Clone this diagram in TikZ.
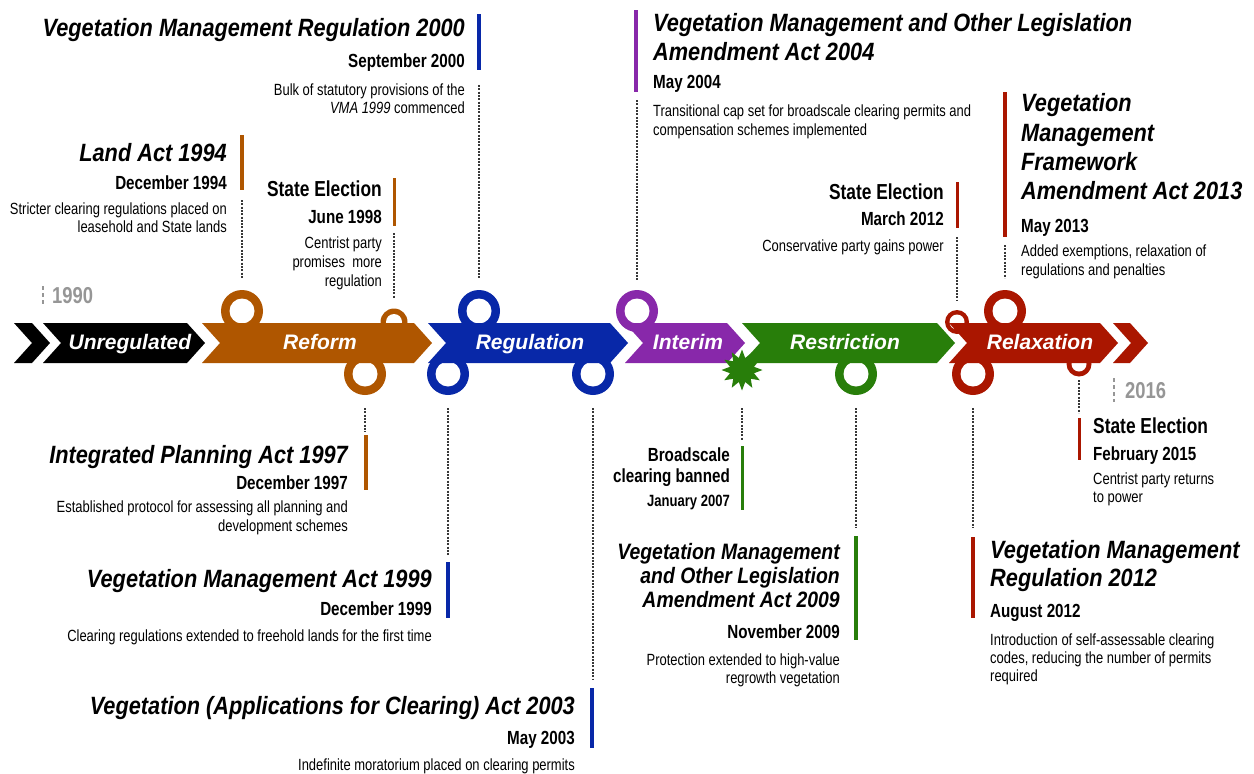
\documentclass[tikz,border=0pt]{standalone}
\usepackage{fontspec}
\setmainfont{Liberation Sans}
\usetikzlibrary{shapes.geometric}
\newfontfamily\tlNarrow[FakeStretch=0.8]{Liberation Sans}
\newfontfamily\tlCond[FakeStretch=0.87]{Liberation Sans}
\newfontfamily\tlPlain{Liberation Sans}

\definecolor{cBlack}{RGB}{0,0,0}
\definecolor{cOrange}{RGB}{175,86,0}
\definecolor{cBlue}{RGB}{8,40,168}
\definecolor{cPurple}{RGB}{136,40,170}
\definecolor{cGreen}{RGB}{40,126,10}
\definecolor{cRed}{RGB}{170,22,0}
\definecolor{cGrey}{RGB}{150,150,150}
\definecolor{cDash}{RGB}{55,55,55}

\tikzset{
  lawtitle/.style={inner sep=0pt, font=\tlCond\bfseries\itshape\fontsize{25}{29}\selectfont},
  lawtitlesm/.style={inner sep=0pt, font=\tlCond\bfseries\itshape\fontsize{22.3}{26}\selectfont},
  lawdate/.style={inner sep=0pt, font=\tlNarrow\bfseries\fontsize{19}{23}\selectfont},
  lawsmall/.style={inner sep=0pt, font=\tlNarrow\bfseries\fontsize{16.3}{19}\selectfont},
  lawhead/.style={inner sep=0pt, font=\tlNarrow\bfseries\fontsize{21.7}{26}\selectfont},
  lawnote/.style={inner sep=0pt, font=\tlNarrow\fontsize{16.2}{19}\selectfont},
  yearlbl/.style={inner sep=0pt, text=cGrey, font=\tlNarrow\bfseries\fontsize{23}{27}\selectfont},
  phase/.style={inner sep=0pt, text=white, font=\tlPlain\bfseries\itshape\fontsize{21}{25}\selectfont},
  leader/.style={cDash, line width=1.1pt, dash pattern=on 2pt off 1.3pt},
  yeartick/.style={cGrey, line width=2.6pt, dash pattern=on 4pt off 3pt},
  bar/.style={line width=4.6pt},
  thinbar/.style={line width=3pt},
}

\newcommand\tlRing[5]{%
  \fill[#1] (#2) circle (#3pt);
  \fill[white] (#2) circle (#4pt);
  \coordinate (#5) at (#2);}
\newcommand\tlBand[4]{% colour, left x, right x, name
  \fill[#1] (#2,323) -- (#3,323) -- ({#3+18},343) -- (#3,363) -- (#2,363) -- ({#2+18},343) -- cycle;
  \coordinate (#4) at ({(#2+#3)/2+9},343);}

\begin{document}
\begin{tikzpicture}[x=1pt,y=-1pt]
\useasboundingbox[fill=white] (0,0) rectangle (1254,774);

% ---- rings hanging off the phase arrows
\tlRing{cOrange}{242,311}{21}{12.5}{rA}
\tlRing{cOrange}{394,322}{13.5}{8}{rB}
\tlRing{cOrange}{365,374}{21}{12.5}{rC}
\tlRing{cBlue}{479,311}{21}{12.5}{rD}
\tlRing{cBlue}{448,374}{21}{12.5}{rE}
\tlRing{cBlue}{593,374}{21}{12.5}{rF}
\tlRing{cPurple}{637,311}{21}{12.5}{rG}
\tlRing{cGreen}{856,374}{21}{12.5}{rH}
\tlRing{cRed}{957,322}{12}{7.5}{rI}
\tlRing{cRed}{1005,311}{21}{12.5}{rJ}
\tlRing{cRed}{973,374}{21}{12.5}{rK}
\tlRing{cRed}{1079,364}{12.5}{7.5}{rL}

% ---- phase arrows
\tlBand{cBlack}{14}{32}{chevL}
\tlBand{cBlack}{43}{187}{bUnreg}
\tlBand{cOrange}{202}{414}{bReform}
\tlBand{cBlue}{428}{610}{bReg}
\tlBand{cPurple}{625}{727}{bInt}
\tlBand{cGreen}{742}{937}{bRes}
\tlBand{cRed}{949}{1100}{bRel}
\tlBand{cRed}{1113}{1130}{chevR}

% ---- starburst marking the 2007 ban
\node[star, star points=12, star point ratio=1.65, minimum size=41pt, inner sep=0pt, fill=cGreen] (burst) at (742,370) {};

% ---- phase names
\node[phase, anchor=base] (pUnreg) at (130,349.5) {Unregulated};
\node[phase, anchor=base] (pReform) at (320,349.5) {Reform};
\node[phase, anchor=base] (pReg) at (530,349.5) {Regulation};
\node[phase, anchor=base] (pInt) at (688,349.5) {Interim};
\node[phase, anchor=base] (pRes) at (845,349.5) {Restriction};
\node[phase, anchor=base] (pRel) at (1040,349.5) {Relaxation};

% ---- start and end years
\coordinate (y0a) at (43,286); \coordinate (y0b) at (43,306);
\draw[yeartick] (y0a) -- (y0b);
\node[yearlbl, anchor=base west] (y1990) at (52,303) {1990};
\coordinate (y1a) at (1114,378); \coordinate (y1b) at (1114,402);
\draw[yeartick] (y1a) -- (y1b);
\node[yearlbl, anchor=base west] (y2016) at (1125,398) {2016};

% ================= events above the timeline =================
% Vegetation Management Regulation 2000
\coordinate (k1a) at (479,14); \coordinate (k1b) at (479,70);
\draw[bar, cBlue] (k1a) -- (k1b);
\node[lawtitle, anchor=base east] (t1) at (465,36) {Vegetation Management Regulation 2000};
\node[lawdate, anchor=base east] (d1) at (465,67) {September 2000};
\node[lawnote, anchor=base east] (n1a) at (465,95.5) {Bulk of statutory provisions of the};
\node[lawnote, anchor=base east] (n1b) at (465,113.5) {\textit{VMA 1999} commenced};
\coordinate (e1) at (479,85);
\draw[leader] (e1) -- ([yshift=33pt]rD);

% Land Act 1994
\coordinate (k2a) at (242,135); \coordinate (k2b) at (242,190);
\draw[bar, cOrange] (k2a) -- (k2b);
\node[lawtitle, anchor=base east] (t2) at (227,161) {Land Act 1994};
\node[lawdate, anchor=base east] (d2) at (227,189) {December 1994};
\node[lawnote, anchor=base east] (n2a) at (227,214.5) {Stricter clearing regulations placed on};
\node[lawnote, anchor=base east] (n2b) at (227,232.5) {leasehold and State lands};
\coordinate (e2) at (242,200);
\draw[leader] (e2) -- ([yshift=33pt]rA);

% State Election 1998
\coordinate (k3a) at (394,178); \coordinate (k3b) at (394,226);
\draw[thinbar, cOrange] (k3a) -- (k3b);
\node[lawhead, anchor=base east] (t3) at (382,196) {State Election};
\node[lawdate, anchor=base east] (d3) at (382,223) {June 1998};
\node[lawnote, anchor=base east] (n3a) at (382,248.5) {Centrist party};
\node[lawnote, anchor=base east] (n3b) at (382,267.5) {promises\ \ more};
\node[lawnote, anchor=base east] (n3c) at (382,286.5) {regulation};
\coordinate (e3) at (394,233);
\draw[leader] (e3) -- ([yshift=24pt]rB);

% Vegetation Management and Other Legislation Amendment Act 2004
\coordinate (k4a) at (636,10); \coordinate (k4b) at (636,92);
\draw[bar, cPurple] (k4a) -- (k4b);
\node[lawtitle, anchor=base west] (t4a) at (653,31) {Vegetation Management and Other Legislation};
\node[lawtitle, anchor=base west] (t4b) at (653,60) {Amendment Act 2004};
\node[lawdate, anchor=base west] (d4) at (653,88) {May 2004};
\node[lawnote, anchor=base west] (n4a) at (653,116.5) {Transitional cap set for broadscale clearing permits and};
\node[lawnote, anchor=base west] (n4b) at (653,135.5) {compensation schemes implemented};
\coordinate (e4) at (637,100);
\draw[leader] (e4) -- ([yshift=31pt]rG);

% State Election 2012
\coordinate (k5a) at (957,182); \coordinate (k5b) at (957,228);
\draw[thinbar, cRed] (k5a) -- (k5b);
\node[lawhead, anchor=base east] (t5) at (944,199) {State Election};
\node[lawdate, anchor=base east] (d5) at (944,225) {March 2012};
\node[lawnote, anchor=base east] (n5) at (944,251.5) {Conservative party gains power};
\coordinate (e5) at (957,237);
\draw[leader] (e5) -- ([yshift=22pt]rI);

% Vegetation Management Framework Amendment Act 2013
\coordinate (k6a) at (1005,92); \coordinate (k6b) at (1005,237);
\draw[bar, cRed] (k6a) -- (k6b);
\node[lawtitle, anchor=base west] (t6a) at (1021,111) {Vegetation};
\node[lawtitle, anchor=base west] (t6b) at (1021,141) {Management};
\node[lawtitle, anchor=base west] (t6c) at (1021,170) {Framework};
\node[lawtitle, anchor=base west] (t6d) at (1021,199) {Amendment Act 2013};
\node[lawdate, anchor=base west] (d6) at (1021,232) {May 2013};
\node[lawnote, anchor=base west] (n6a) at (1021,256.5) {Added exemptions, relaxation of};
\node[lawnote, anchor=base west] (n6b) at (1021,275.5) {regulations and penalties};
\coordinate (e6) at (1005,245);
\draw[leader] (e6) -- ([yshift=33pt]rJ);

% ================= events below the timeline =================
% Integrated Planning Act 1997
\coordinate (k7a) at (366,435); \coordinate (k7b) at (366,490);
\draw[bar, cOrange] (k7a) -- (k7b);
\node[lawtitle, anchor=base east] (t7) at (348,463) {Integrated Planning Act 1997};
\node[lawdate, anchor=base east] (d7) at (348,489) {December 1997};
\node[lawnote, anchor=base east] (n7a) at (348,512.5) {Established protocol for assessing all planning and};
\node[lawnote, anchor=base east] (n7b) at (348,531.5) {development schemes};
\coordinate (e7) at (365,432);
\draw[leader] ([yshift=-34pt]rC) -- (e7);

% Vegetation Management Act 1999
\coordinate (k8a) at (448,562); \coordinate (k8b) at (448,618);
\draw[bar, cBlue] (k8a) -- (k8b);
\node[lawtitle, anchor=base east] (t8) at (432,587) {Vegetation Management Act 1999};
\node[lawdate, anchor=base east] (d8) at (432,615) {December 1999};
\node[lawnote, anchor=base east] (n8) at (432,641.5) {Clearing regulations extended to freehold lands for the first time};
\coordinate (e8) at (448,555);
\draw[leader] ([yshift=-34pt]rE) -- (e8);

% Vegetation (Applications for Clearing) Act 2003
\coordinate (k9a) at (592,688); \coordinate (k9b) at (592,748);
\draw[bar, cBlue] (k9a) -- (k9b);
\node[lawtitle, anchor=base east] (t9) at (575,714) {Vegetation (Applications for Clearing) Act 2003};
\node[lawdate, anchor=base east] (d9) at (575,744) {May 2003};
\node[lawnote, anchor=base east] (n9) at (575,770.5) {Indefinite moratorium placed on clearing permits};
\coordinate (e9) at (593,680);
\draw[leader] ([yshift=-34pt]rF) -- (e9);

% Broadscale clearing banned 2007
\coordinate (k10a) at (742,446); \coordinate (k10b) at (742,510);
\draw[thinbar, cGreen] (k10a) -- (k10b);
\node[lawdate, anchor=base east] (t10a) at (730,461) {Broadscale};
\node[lawdate, anchor=base east] (t10b) at (730,482) {clearing banned};
\node[lawsmall, anchor=base east] (d10) at (730,506.5) {January 2007};
\coordinate (e10) at (742,440);
\draw[leader] ([yshift=-38pt]burst.center) -- (e10);

% Vegetation Management and Other Legislation Amendment Act 2009
\coordinate (k11a) at (856,536); \coordinate (k11b) at (856,640);
\draw[bar, cGreen] (k11a) -- (k11b);
\node[lawtitlesm, anchor=base east] (t11a) at (840,559) {Vegetation Management};
\node[lawtitlesm, anchor=base east] (t11b) at (840,583) {and Other Legislation};
\node[lawtitlesm, anchor=base east] (t11c) at (840,607) {Amendment Act 2009};
\node[lawdate, anchor=base east] (d11) at (840,638) {November 2009};
\node[lawnote, anchor=base east] (n11a) at (840,665.5) {Protection extended to high-value};
\node[lawnote, anchor=base east] (n11b) at (840,683.5) {regrowth vegetation};
\coordinate (e11) at (856,528);
\draw[leader] ([yshift=-34pt]rH) -- (e11);

% Vegetation Management Regulation 2012
\coordinate (k12a) at (973,537); \coordinate (k12b) at (973,618);
\draw[bar, cRed] (k12a) -- (k12b);
\node[lawtitle, anchor=base west] (t12a) at (990,558) {Vegetation Management};
\node[lawtitle, anchor=base west] (t12b) at (990,586) {Regulation 2012};
\node[lawdate, anchor=base west] (d12) at (990,617) {August 2012};
\node[lawnote, anchor=base west] (n12a) at (990,645.5) {Introduction of self-assessable clearing};
\node[lawnote, anchor=base west] (n12b) at (990,663.5) {codes, reducing the number of permits};
\node[lawnote, anchor=base west] (n12c) at (990,681.5) {required};
\coordinate (e12) at (973,528);
\draw[leader] ([yshift=-34pt]rK) -- (e12);

% State Election 2015
\coordinate (k13a) at (1079,418); \coordinate (k13b) at (1079,460);
\draw[thinbar, cRed] (k13a) -- (k13b);
\node[lawhead, anchor=base west] (t13) at (1093,433) {State Election};
\node[lawdate, anchor=base west] (d13) at (1093,460) {February 2015};
\node[lawnote, anchor=base west] (n13a) at (1093,484.5) {Centrist party returns};
\node[lawnote, anchor=base west] (n13b) at (1093,502.5) {to power};
\coordinate (e13) at (1079,413);
\draw[leader] ([yshift=-16pt]rL) -- (e13);
\end{tikzpicture}
\end{document}
